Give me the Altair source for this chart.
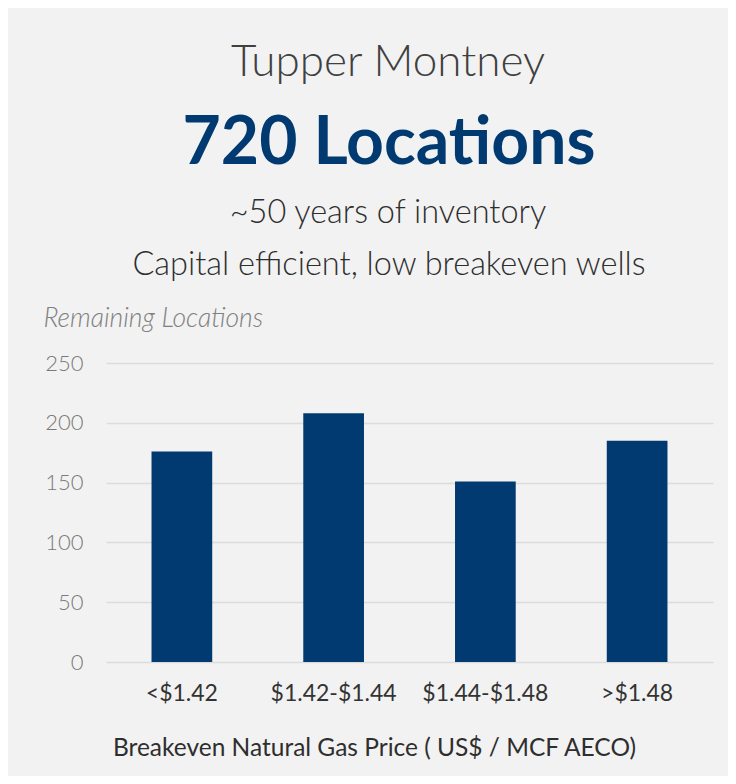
import altair as alt
import pandas as pd

categories = ["<$1.42", "$1.42-$1.44", "$1.44-$1.48", ">$1.48"]
locations = [176, 208, 151, 185]
y_ticks = [0, 50, 100, 150, 200, 250]

header_line1 = "Tupper Montney"
header_line2 = "720 Locations"
header_line3 = "~50 years of inventory"
header_line4 = "Capital efficient, low breakeven wells"
y_title = "Remaining Locations"
x_title = "Breakeven Natural Gas Price ( US$ / MCF AECO)"

FONT = "Lato"
NAVY = "#003a70"

df = pd.DataFrame({"category": categories, "locations": locations})

bars = alt.Chart(df).mark_bar(color=NAVY).encode(
    x=alt.X(
        "category:N",
        sort=categories,
        scale=alt.Scale(paddingInner=0.6, paddingOuter=0.3),
        axis=alt.Axis(
            title=x_title,
            labelAngle=0,
            labelFont=FONT,
            labelFontSize=23,
            labelColor="#333333",
            labelBaseline="middle",
            labelPadding=31,
            ticks=False,
            tickSize=0,
            domain=False,
            grid=False,
            titleFont=FONT,
            titleFontSize=24.5,
            titleFontWeight="normal",
            titleColor="#2e2e2e",
            titleX=268,
            titleY=86,
            titleAlign="center",
            titleBaseline="middle",
        ),
    ),
    y=alt.Y(
        "locations:Q",
        scale=alt.Scale(domain=[0, 250], nice=False),
        axis=alt.Axis(
            values=y_ticks,
            title=y_title,
            titleAngle=0,
            titleAlign="left",
            titleBaseline="middle",
            titleX=-63,
            titleY=-45,
            titleFont=FONT,
            titleFontSize=26.5,
            titleFontStyle="italic",
            titleFontWeight=300,
            titleColor="#808080",
            labelFont=FONT,
            labelFontSize=22,
            labelFontWeight=300,
            labelColor="#7a7a7a",
            labelPadding=23,
            ticks=False,
            tickSize=0,
            domain=False,
            grid=True,
            gridColor="#dcdcdc",
            gridWidth=1.5,
        ),
    ),
)


def header(text, size, weight, color, x, y):
    return alt.Chart(pd.DataFrame({"t": [text]})).mark_text(
        font=FONT,
        fontSize=size,
        fontWeight=weight,
        color=color,
        align="center",
        baseline="alphabetic",
    ).encode(text="t:N", x=alt.value(x), y=alt.value(y))


h1 = header(header_line1, 44, 300, "#404040", 282, -287)
h2 = header(header_line2, 66, "bold", NAVY, 283, -199)
h3 = header(header_line3, 32.5, 300, "#2e2e2e", 282, -140)
h4 = header(header_line4, 32.5, 300, "#2e2e2e", 283, -88)

chart = alt.layer(bars, h1, h2, h3, h4).properties(
    width=607,
    height=299,
    background="#f2f2f2",
    padding={"left": 98, "top": 355, "right": 15, "bottom": 114},
    autosize=alt.AutoSizeParams(type="none"),
).configure_view(stroke=None)

chart.save("out.html", embed_options={"renderer": "svg", "actions": False})
